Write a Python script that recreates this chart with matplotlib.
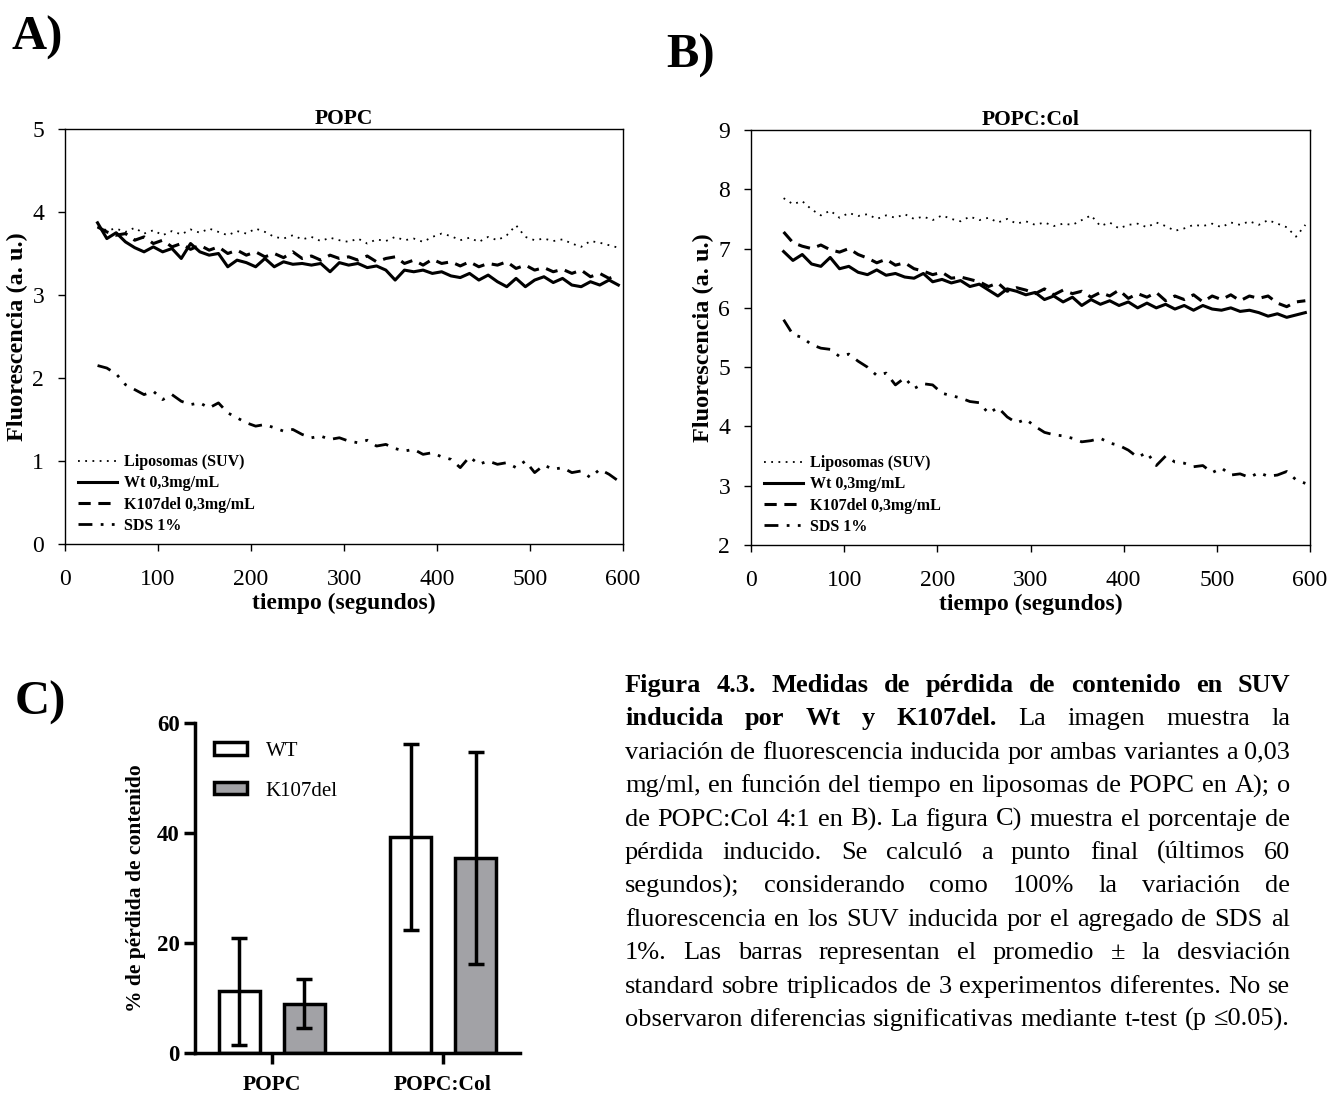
import numpy as np
import matplotlib
matplotlib.use("Agg")
import matplotlib.pyplot as plt

plt.rcParams['font.family'] = ['Liberation Serif', 'DejaVu Serif']

# --- datos paneles A y B (fluorescencia vs tiempo) ---
t = list(range(35, 600, 10))

popc_lipo = [3.82, 3.78, 3.80, 3.76, 3.81, 3.74, 3.78, 3.72, 3.77, 3.73,
             3.79, 3.75, 3.80, 3.76, 3.72, 3.77, 3.74, 3.80, 3.76, 3.70,
             3.68, 3.72, 3.67, 3.70, 3.65, 3.69, 3.66, 3.64, 3.68, 3.62,
             3.67, 3.65, 3.70, 3.66, 3.68, 3.64, 3.70, 3.74, 3.71, 3.66,
             3.69, 3.64, 3.70, 3.66, 3.72, 3.84, 3.70, 3.66, 3.68, 3.65,
             3.67, 3.62, 3.58, 3.65, 3.63, 3.60, 3.57]
popc_wt = [3.87, 3.68, 3.75, 3.64, 3.57, 3.52, 3.58, 3.52, 3.56, 3.44,
           3.62, 3.52, 3.48, 3.50, 3.34, 3.42, 3.39, 3.34, 3.44, 3.34,
           3.40, 3.37, 3.38, 3.36, 3.38, 3.28, 3.39, 3.36, 3.38, 3.33,
           3.35, 3.30, 3.18, 3.30, 3.28, 3.30, 3.26, 3.28, 3.23, 3.21,
           3.26, 3.18, 3.24, 3.16, 3.10, 3.20, 3.10, 3.18, 3.22, 3.15,
           3.20, 3.12, 3.10, 3.16, 3.12, 3.18, 3.12]
popc_k107 = [3.82, 3.76, 3.72, 3.74, 3.66, 3.70, 3.62, 3.66, 3.58, 3.62,
             3.55, 3.60, 3.54, 3.58, 3.50, 3.54, 3.48, 3.52, 3.46, 3.50,
             3.45, 3.52, 3.44, 3.47, 3.42, 3.48, 3.44, 3.46, 3.42, 3.47,
             3.40, 3.44, 3.46, 3.38, 3.42, 3.36, 3.43, 3.38, 3.40, 3.35,
             3.40, 3.34, 3.38, 3.36, 3.40, 3.32, 3.36, 3.30, 3.33, 3.28,
             3.31, 3.26, 3.30, 3.22, 3.26, 3.20, 3.24]
popc_sds = [2.15, 2.12, 2.05, 1.92, 1.86, 1.80, 1.84, 1.74, 1.80, 1.72,
            1.68, 1.70, 1.64, 1.70, 1.58, 1.52, 1.46, 1.42, 1.44, 1.40,
            1.36, 1.38, 1.32, 1.28, 1.30, 1.26, 1.28, 1.24, 1.22, 1.25,
            1.18, 1.20, 1.15, 1.12, 1.14, 1.08, 1.10, 1.05, 1.02, 0.92,
            1.05, 0.96, 1.00, 0.96, 0.98, 0.92, 1.00, 0.86, 0.95, 0.90,
            0.92, 0.86, 0.88, 0.80, 0.90, 0.84, 0.76]

col_lipo = [7.85, 7.75, 7.80, 7.66, 7.56, 7.64, 7.52, 7.60, 7.55, 7.58,
            7.50, 7.56, 7.52, 7.58, 7.50, 7.54, 7.48, 7.56, 7.50, 7.46,
            7.54, 7.48, 7.52, 7.44, 7.50, 7.42, 7.46, 7.40, 7.44, 7.38,
            7.42, 7.40, 7.48, 7.56, 7.38, 7.44, 7.34, 7.40, 7.42, 7.36,
            7.44, 7.38, 7.30, 7.34, 7.40, 7.38, 7.42, 7.36, 7.44, 7.40,
            7.46, 7.40, 7.48, 7.42, 7.36, 7.20, 7.40]
col_wt = [6.95, 6.80, 6.90, 6.74, 6.70, 6.85, 6.66, 6.70, 6.60, 6.56,
          6.64, 6.55, 6.58, 6.52, 6.50, 6.58, 6.44, 6.48, 6.42, 6.46,
          6.36, 6.40, 6.30, 6.20, 6.32, 6.28, 6.22, 6.26, 6.14, 6.20,
          6.10, 6.18, 6.04, 6.14, 6.06, 6.12, 6.04, 6.10, 6.00, 6.08,
          6.00, 6.06, 5.98, 6.04, 5.96, 6.04, 5.98, 5.96, 6.00, 5.94,
          5.96, 5.92, 5.86, 5.90, 5.84, 5.88, 5.92]
col_k107 = [7.28, 7.10, 7.04, 7.00, 7.06, 6.98, 6.94, 7.00, 6.90, 6.84,
            6.76, 6.82, 6.72, 6.76, 6.66, 6.62, 6.56, 6.60, 6.50, 6.52,
            6.48, 6.44, 6.36, 6.42, 6.28, 6.34, 6.30, 6.24, 6.32, 6.22,
            6.30, 6.24, 6.28, 6.18, 6.26, 6.20, 6.30, 6.16, 6.24, 6.18,
            6.26, 6.12, 6.20, 6.14, 6.22, 6.10, 6.20, 6.14, 6.22, 6.12,
            6.20, 6.16, 6.20, 6.08, 6.02, 6.10, 6.12]
col_sds = [5.80, 5.55, 5.50, 5.38, 5.32, 5.30, 5.18, 5.22, 5.10, 5.00,
           4.86, 4.90, 4.70, 4.82, 4.64, 4.72, 4.70, 4.56, 4.52, 4.48,
           4.42, 4.40, 4.22, 4.32, 4.16, 4.06, 4.12, 4.00, 3.90, 3.86,
           3.84, 3.80, 3.74, 3.76, 3.80, 3.72, 3.68, 3.60, 3.48, 3.56,
           3.34, 3.50, 3.40, 3.38, 3.32, 3.34, 3.22, 3.30, 3.18, 3.20,
           3.14, 3.22, 3.16, 3.18, 3.24, 3.10, 3.04]

labels = ['Liposomas (SUV)', 'Wt 0,3mg/mL', 'K107del 0,3mg/mL', 'SDS 1%']

# --- datos panel C ---
grupos = ['POPC', 'POPC:Col']
wt_mean = [11.2, 39.2]
wt_sd = [9.7, 16.9]
k107_mean = [9.0, 35.5]
k107_sd = [4.5, 19.3]

caption = [
    ("Figura 4.3. Medidas de pérdida de contenido en SUV", ""),
    ("inducida por Wt y K107del.", "La imagen muestra la"),
    ("", "variación de fluorescencia inducida por ambas variantes a 0,03"),
    ("", "mg/ml, en función del tiempo en liposomas de POPC en A); o"),
    ("", "de POPC:Col 4:1 en B). La figura C) muestra el porcentaje de"),
    ("", "pérdida inducido. Se calculó a punto final (últimos 60"),
    ("", "segundos); considerando como 100% la variación de"),
    ("", "fluorescencia en los SUV inducida por el agregado de SDS al"),
    ("", "1%. Las barras representan el promedio ± la desviación"),
    ("", "standard sobre triplicados de 3 experimentos diferentes. No se"),
    ("", "observaron diferencias significativas mediante t-test (p ≤0.05)."),
]

W, H = 1343, 1094
fig = plt.figure(figsize=(W / 100, H / 100), dpi=100)


def box(l, t_, r, b):
    return [l / W, 1 - b / H, (r - l) / W, (b - t_) / H]


styles = [
    dict(ls=(0, (1, 3)), lw=1.3),
    dict(ls='-', lw=2.2),
    dict(ls=(0, (4, 2.5)), lw=2.2),
    dict(ls=(0, (5, 3, 1, 3, 1, 3)), lw=2.0),
]


def panel(rect, series, ylim, title):
    ax = fig.add_axes(rect)
    for y, st, lab in zip(series, styles, labels):
        ax.plot(t, y, color='black', label=lab, **st)
    ax.set_xlim(0, 600)
    ax.set_ylim(*ylim)
    ax.set_xticks(range(0, 601, 100))
    ax.set_yticks(range(ylim[0], ylim[1] + 1))
    ax.tick_params(axis='x', direction='out', length=5, width=1, labelsize=17, pad=13)
    ax.tick_params(axis='y', direction='out', length=5, width=1, labelsize=17, pad=10)
    for s in ax.spines.values():
        s.set_linewidth(1)
    ax.set_title(title, fontsize=15.5, fontweight='bold', pad=3)
    ax.set_xlabel('tiempo (segundos)', fontsize=17, fontweight='bold', labelpad=2)
    ax.set_ylabel('Fluorescencia (a. u.)', fontsize=17.5, fontweight='bold', labelpad=3)
    ax.legend(loc='lower left', bbox_to_anchor=(0.005, 0.0), frameon=False,
              prop=dict(size=11.5, weight='bold'), handlelength=2.4,
              labelspacing=0.32, handletextpad=0.5, borderpad=0.15)
    return ax


panel(box(65, 129, 623, 544), [popc_lipo, popc_wt, popc_k107, popc_sds], (0, 5), 'POPC')
panel(box(751, 130, 1310, 545), [col_lipo, col_wt, col_k107, col_sds], (2, 9), 'POPC:Col')

# --- panel C ---
axc = fig.add_axes(box(195, 723, 520, 1053))
x = np.arange(len(grupos))
bw = 0.24
off = 0.19
axc.bar(x - off, wt_mean, bw, color='white', edgecolor='black', linewidth=2.5,
        label='WT', zorder=2)
axc.bar(x + off, k107_mean, bw, color='#a2a2a6', edgecolor='black', linewidth=2.5,
        label='K107del', zorder=2)
axc.errorbar(x - off, wt_mean, yerr=wt_sd, fmt='none', ecolor='black',
             elinewidth=2.5, capsize=6, capthick=2.5, zorder=3)
axc.errorbar(x + off, k107_mean, yerr=k107_sd, fmt='none', ecolor='black',
             elinewidth=2.5, capsize=6, capthick=2.5, zorder=3)
axc.set_xlim(-0.45, 1.45)
axc.set_ylim(0, 60)
axc.set_yticks([0, 20, 40, 60])
axc.set_xticks(x)
axc.set_xticklabels(grupos, fontsize=15.5, fontweight='bold')
for lab in axc.get_yticklabels():
    lab.set_fontweight('bold')
axc.tick_params(axis='y', direction='out', length=8, width=2.5, labelsize=16.5, pad=3)
axc.tick_params(axis='x', direction='out', length=8, width=2.5, labelsize=15.5, pad=8)
axc.spines['top'].set_visible(False)
axc.spines['right'].set_visible(False)
axc.spines['left'].set_linewidth(2.5)
axc.spines['bottom'].set_linewidth(2.5)
axc.set_ylabel('% de pérdida de contenido', fontsize=15.5, fontweight='bold', labelpad=8)
axc.legend(loc='upper left', bbox_to_anchor=(0.0, 1.0), frameon=False,
           fontsize=15, handlelength=1.6, handleheight=0.55, labelspacing=1.0,
           handletextpad=0.9)

# --- letras de panel ---
fig.text(12 / W, 1 - 50 / H, 'A)', fontsize=35, fontweight='bold')
fig.text(666 / W, 1 - 68 / H, 'B)', fontsize=35, fontweight='bold')
fig.text(15 / W, 1 - 715 / H, 'C)', fontsize=35, fontweight='bold')

# --- leyenda de la figura, justificada ---
fig.canvas.draw()
rend = fig.canvas.get_renderer()
fs_cap = 19
x0, x1 = 625, 1290
y_first, dy = 692, 33.4


def width_of(s, weight):
    tt = fig.text(0, 0, s, fontsize=fs_cap, fontweight=weight)
    w = tt.get_window_extent(rend).width
    tt.remove()
    return w


for i, (bold, reg) in enumerate(caption):
    words = [(w, 'bold') for w in bold.split()] + [(w, 'normal') for w in reg.split()]
    widths = [width_of(w, wt) for w, wt in words]
    gap = (x1 - x0 - sum(widths)) / (len(words) - 1)
    xp = x0
    yp = y_first + i * dy
    for (w, wt), ww in zip(words, widths):
        fig.text(xp / W, 1 - yp / H, w, fontsize=fs_cap, fontweight=wt)
        xp += ww + gap

fig.savefig('out.png', dpi=100)
